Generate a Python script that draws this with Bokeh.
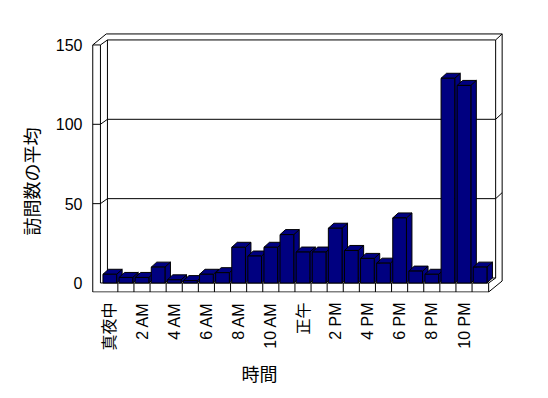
import math
from bokeh.plotting import figure
from bokeh.models import Range1d, FixedTicker, Title
from bokeh.embed import file_html
from bokeh.resources import INLINE

# ---- data ----
hours = list(range(24))
visits = [5.5, 3.5, 3.5, 10, 2, 1.5, 5.5, 6.5, 22.5, 17, 22.5, 30.5,
          19.5, 19.5, 34.5, 20.5, 15.5, 12.5, 41, 7.5, 5.5, 129, 124.5, 10]
x_ticks = [0, 2, 4, 6, 8, 10, 12, 14, 16, 18, 20, 22]
x_tick_labels = ["真夜中", "2 AM", "4 AM", "6 AM", "8 AM", "10 AM",
                 "正午", "2 PM", "4 PM", "6 PM", "8 PM", "10 PM"]
y_ticks = [0, 50, 100, 150]
x_title = "時間"
y_title = "訪問数の平均"

# ---- layout constants (pixels) ----
W, H = 540, 390
PX_X = 16.1          # px per category
PX_Y = 1.587         # px per value unit
X0_PX = 109.3        # canvas px of category 0 centre
Y0_PX = 282.5        # canvas px of value 0 (front plane)
F_L, F_R, F_T, F_B = 90, 505, 30, 292   # frame edges in canvas px
TITLE_PX = 18


def dx(px):
    return px / PX_X


def dy(px):
    return px / PX_Y


def to_x(px):
    return (px - X0_PX) / PX_X


def to_y(px):
    return (Y0_PX - px) / PX_Y


p = figure(width=W, height=H, output_backend="svg", toolbar_location=None,
           x_range=Range1d(to_x(F_L), to_x(F_R)),
           y_range=Range1d(to_y(F_B), to_y(F_T)),
           min_border_left=F_L, min_border_right=W - F_R,
           min_border_top=F_T, min_border_bottom=H - F_B)
p.outline_line_color = None
p.grid.visible = False
p.background_fill_color = "white"
p.border_fill_color = "white"

n = len(visits)
x_lo = -0.5 - dx(1.3)
x_out = x_lo - dx(7.7)
x_hi = n - 0.5 + dx(0.5)
y_top = y_ticks[-1]
y_bot = -dy(9)
d1x, d1y = dx(7), dy(5)
d2x, d2y = dx(13.5), dy(11)

xs, ys = [], []


def line(*pts):
    xs.append([a for a, b in pts])
    ys.append([b for a, b in pts])


line((x_out, y_bot), (x_out, y_top), (x_lo, y_top))
line((x_lo, 0), (x_lo, y_top))
line((x_out, y_bot), (x_hi, y_bot), (x_hi, 0), (x_lo, 0))
for k in range(n - 1):
    line((k + 0.5, y_bot), (k + 0.5, 0))
line((x_out, y_top), (x_out + d2x, y_top + d2y), (x_hi + d2x, y_top + d2y),
     (x_hi + d2x, y_bot + d2y), (x_hi, y_bot))
line((x_lo, y_top), (x_lo + d1x, y_top + d1y), (x_hi + d1x, y_top + d1y),
     (x_hi + d2x, y_top + d2y))
line((x_lo + d1x, d1y), (x_lo + d1x, y_top + d1y))
line((x_hi + d1x, d1y), (x_hi + d1x, y_top + d1y))
line((x_lo + d1x, d1y), (x_hi + d1x, d1y), (x_hi, 0))
for v in y_ticks[1:-1]:
    line((x_out, v), (x_lo, v), (x_lo + d1x, v + d1y), (x_hi + d1x, v + d1y),
         (x_hi + d2x, v + d2y))

p.multi_line(xs, ys, line_color="black", line_width=1)

# ---- 3D bars ----
bw = 0.85
bx, by = dx(5.5), dy(5)
pxs, pys = [], []
for h, v in zip(hours, visits):
    r = h + bw / 2
    l = h - bw / 2
    pxs.append([r, r + bx, r + bx, r])
    pys.append([0, by, v + by, v])
    pxs.append([l, r, r + bx, l + bx])
    pys.append([v, v, v + by, v + by])
p.patches(pxs, pys, fill_color="#000080", line_color="black", line_width=1)
p.vbar(x=hours, top=visits, bottom=0, width=bw, fill_color="#000080",
       line_color="black", line_width=1)

font = "Liberation Sans, Noto Sans CJK JP"

p.yaxis.ticker = FixedTicker(ticks=y_ticks)
p.yaxis.axis_line_color = None
p.yaxis.major_tick_line_color = None
p.yaxis.minor_tick_line_color = None
p.yaxis.major_tick_out = 0
p.yaxis.major_tick_in = 0
p.yaxis.major_label_standoff = 8
p.yaxis.major_label_text_font = font
p.yaxis.major_label_text_font_size = "16px"
p.yaxis.major_label_text_color = "black"

p.xaxis.ticker = FixedTicker(ticks=x_ticks)
p.xaxis.major_label_overrides = {t: s for t, s in zip(x_ticks, x_tick_labels)}
p.xaxis.major_label_orientation = math.pi / 2
p.xaxis.axis_line_color = None
p.xaxis.major_tick_line_color = None
p.xaxis.minor_tick_line_color = None
p.xaxis.major_tick_out = 0
p.xaxis.major_tick_in = 0
p.xaxis.major_label_standoff = 10
p.xaxis.major_label_text_font = font
p.xaxis.major_label_text_font_size = "16px"
p.xaxis.major_label_text_color = "black"

# axis titles (left-aligned titles shifted to the reference centres)
xt_w = TITLE_PX * len(x_title)
yt_w = TITLE_PX * len(y_title)
p.add_layout(Title(text=x_title, align="left",
                   offset=259 - xt_w / 2 - F_L,
                   text_font="Noto Sans CJK JP",
                   text_font_size=f"{TITLE_PX}px",
                   text_font_style="normal", text_color="black",
                   standoff=8), "below")
p.add_layout(Title(text=y_title, align="left",
                   offset=F_B - (181 + yt_w / 2),
                   text_font="Noto Sans CJK JP",
                   text_font_size=f"{TITLE_PX}px",
                   text_font_style="normal", text_color="black",
                   standoff=17), "left")

open("out.html", "w").write(file_html(p, INLINE))
